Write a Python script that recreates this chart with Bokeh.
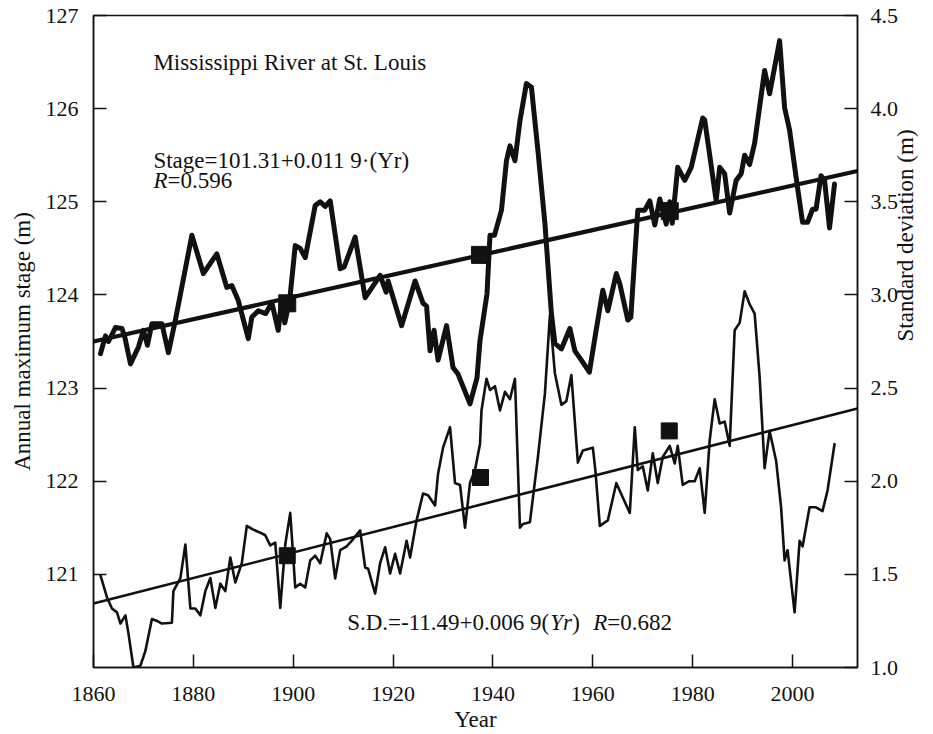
import math
from bokeh.plotting import figure
from bokeh.models import Range1d, LinearAxis, FixedTicker, PrintfTickFormatter, Label
from bokeh.embed import file_html
from bokeh.resources import INLINE

# ---------------- data ----------------
stage_years = [1861.4, 1862.4, 1863.0, 1864.4, 1865.7, 1866.3, 1867.4, 1869.0, 1870.0, 1870.8,
               1871.7, 1873.7, 1875.0, 1876.4, 1879.7, 1882.0, 1884.7, 1886.7, 1887.7, 1889.0,
               1891.0, 1891.7, 1893.0, 1894.5, 1895.7, 1897.0, 1897.7, 1898.3, 1899.3, 1900.4,
               1901.4, 1902.4, 1904.4, 1905.4, 1906.4, 1907.4, 1909.4, 1910.2, 1912.4, 1914.4,
               1915.4, 1917.4, 1918.6, 1919.0, 1921.7, 1924.4, 1926.0, 1926.7, 1927.4, 1928.2,
               1929.0, 1930.7, 1932.0, 1933.0, 1935.4, 1936.8, 1937.4, 1938.8, 1939.4, 1940.3,
               1941.7, 1942.7, 1943.4, 1944.4, 1945.4, 1946.7, 1947.7, 1949.0, 1950.4, 1951.7,
               1952.4, 1953.7, 1955.4, 1956.4, 1957.7, 1959.3, 1960.6, 1962.0, 1963.0, 1964.7,
               1965.4, 1967.0, 1967.6, 1969.0, 1970.4, 1971.4, 1972.4, 1973.4, 1974.7, 1975.4,
               1975.9, 1977.0, 1978.4, 1979.7, 1982.0, 1982.4, 1984.7, 1985.4, 1986.4, 1987.4,
               1988.7, 1989.7, 1990.4, 1991.4, 1992.4, 1994.4, 1995.4, 1997.4, 1998.4, 1999.4,
               2001.0, 2002.0, 2003.0, 2004.0, 2004.7, 2005.7, 2006.4, 2007.4, 2008.4]
stage_values = [123.37, 123.56, 123.50, 123.65, 123.64, 123.54, 123.26, 123.44, 123.62, 123.46,
                123.69, 123.69, 123.38, 123.73, 124.64, 124.23, 124.44, 124.08, 124.10, 123.94,
                123.53, 123.76, 123.83, 123.80, 123.92, 123.62, 123.95, 123.70, 123.95, 124.53,
                124.50, 124.40, 124.96, 125.00, 124.95, 125.01, 124.28, 124.30, 124.62, 123.97,
                124.05, 124.21, 124.03, 124.15, 123.67, 124.15, 123.91, 123.88, 123.40, 123.62,
                123.30, 123.67, 123.22, 123.15, 122.83, 123.11, 123.51, 124.01, 124.64, 124.64,
                124.91, 125.44, 125.60, 125.44, 125.87, 126.27, 126.23, 125.55, 124.77, 123.80,
                123.48, 123.42, 123.64, 123.40, 123.30, 123.17, 123.60, 124.05, 123.83, 124.23,
                124.12, 123.73, 123.76, 124.91, 124.91, 125.01, 124.75, 125.03, 124.76, 125.00,
                124.77, 125.37, 125.23, 125.37, 125.90, 125.88, 125.01, 125.37, 125.30, 124.88,
                125.23, 125.30, 125.50, 125.40, 125.63, 126.41, 126.16, 126.73, 126.01, 125.77,
                125.15, 124.78, 124.78, 124.92, 124.92, 125.28, 125.23, 124.72, 125.19]

sd_years = [1861.4, 1862.7, 1863.7, 1864.7, 1865.4, 1866.4, 1867.0, 1868.0, 1869.4, 1870.4,
            1871.7, 1872.7, 1873.7, 1875.7, 1876.0, 1877.4, 1878.4, 1879.4, 1880.4, 1881.4,
            1882.4, 1883.4, 1884.4, 1885.4, 1886.4, 1887.4, 1888.4, 1889.7, 1890.7, 1892.0,
            1893.7, 1894.4, 1895.4, 1896.4, 1897.4, 1898.4, 1899.4, 1900.4, 1901.4, 1902.4,
            1903.4, 1904.4, 1905.4, 1906.7, 1907.4, 1908.4, 1909.4, 1910.7, 1911.7, 1913.4,
            1914.4, 1915.0, 1916.4, 1917.4, 1918.4, 1919.4, 1920.4, 1921.4, 1922.7, 1923.4,
            1924.7, 1926.0, 1927.0, 1928.4, 1929.0, 1930.0, 1931.4, 1932.4, 1933.4, 1934.4,
            1935.4, 1936.4, 1937.4, 1937.7, 1938.7, 1939.4, 1940.4, 1941.4, 1942.4, 1943.4,
            1944.4, 1945.4, 1946.0, 1947.4, 1949.0, 1950.4, 1951.4, 1952.4, 1953.7, 1954.7,
            1955.7, 1957.0, 1958.0, 1960.0, 1960.5, 1961.4, 1963.0, 1964.7, 1965.7, 1967.4,
            1968.4, 1969.0, 1970.0, 1971.0, 1972.0, 1973.0, 1974.0, 1975.4, 1976.4, 1977.0,
            1978.0, 1979.3, 1980.4, 1981.4, 1982.4, 1983.4, 1984.4, 1985.4, 1986.4, 1987.4,
            1988.4, 1989.4, 1990.4, 1991.4, 1992.4, 1993.4, 1994.4, 1995.4, 1996.7, 1997.7,
            1998.4, 1999.0, 2000.4, 2001.4, 2002.0, 2003.4, 2004.7, 2006.0, 2007.0, 2008.4]
sd_values = [1.494, 1.376, 1.317, 1.296, 1.236, 1.28, 1.183, 1.0, 1.01, 1.09,
             1.26, 1.25, 1.236, 1.24, 1.41, 1.48, 1.66, 1.317, 1.317, 1.28,
             1.41, 1.48, 1.32, 1.45, 1.41, 1.59, 1.456, 1.56, 1.76, 1.74,
             1.72, 1.71, 1.655, 1.67, 1.32, 1.66, 1.83, 1.43, 1.45, 1.43,
             1.575, 1.60, 1.56, 1.72, 1.69, 1.478, 1.63, 1.65, 1.68, 1.736,
             1.537, 1.53, 1.397, 1.56, 1.645, 1.505, 1.61, 1.505, 1.68, 1.59,
             1.79, 1.934, 1.925, 1.87, 2.04, 2.18, 2.29, 1.99, 1.98, 1.75,
             1.99, 2.06, 2.2, 2.38, 2.55, 2.49, 2.51, 2.38, 2.48, 2.44,
             2.55, 1.75, 1.77, 1.78, 2.13, 2.47, 2.89, 2.58, 2.41, 2.43,
             2.57, 2.10, 2.165, 2.18, 2.06, 1.76, 1.79, 1.99, 1.93, 1.83,
             2.29, 2.06, 2.08, 1.95, 2.15, 1.99, 2.13, 2.19, 2.095, 2.19,
             1.98, 2.0, 2.0, 2.07, 1.83, 2.22, 2.44, 2.31, 2.32, 2.19,
             2.81, 2.85, 3.02, 2.95, 2.90, 2.56, 2.07, 2.27, 2.11, 1.86,
             1.575, 1.63, 1.296, 1.68, 1.65, 1.86, 1.86, 1.84, 1.95, 2.2]

trend_years = [1860, 2013]
stage_trend = [123.50, 125.33]
sd_trend = [1.344, 2.39]

mark_years_stage = [1898.8, 1937.4, 1975.4]
mark_stage = [123.91, 124.43, 124.90]
mark_years_sd = [1898.8, 1937.5, 1975.3]
mark_sd = [1.60, 2.02, 2.27]

x_ticks = [1860, 1880, 1900, 1920, 1940, 1960, 1980, 2000]
left_ticks = [121, 122, 123, 124, 125, 126, 127]
right_ticks = [1.0, 1.5, 2.0, 2.5, 3.0, 3.5, 4.0, 4.5]

title_text = "Mississippi River at St. Louis"
stage_eq_text = "Stage=101.31+0.011 9\u00b7(Yr)"
stage_r_text = "=0.596"
sd_eq_text = "S.D.=-11.49+0.006 9("
sd_r_text = "=0.682"
x_title = "Year"
left_title = "Annual maximum stage (m)"
right_title = "Standard deviation (m)"

# ---------------- figure ----------------
FONT = "Liberation Serif"
INK = "#111111"

p = figure(width=933, height=734, output_backend="svg", toolbar_location=None,
           x_range=Range1d(1860, 2013), y_range=Range1d(120, 127),
           min_border_left=93, min_border_right=75, min_border_top=15, min_border_bottom=67)
p.extra_y_ranges = {"sd": Range1d(1.0, 4.5)}
p.grid.visible = False
p.outline_line_color = INK
p.outline_line_width = 1.5
p.background_fill_color = "white"
p.border_fill_color = "white"

# trend lines
p.line(trend_years, stage_trend, line_color=INK, line_width=4.2)
p.line(trend_years, sd_trend, line_color=INK, line_width=2.6, y_range_name="sd")

# series
p.line(stage_years, stage_values, line_color=INK, line_width=5, line_join="round", line_cap="round")
p.line(sd_years, sd_values, line_color=INK, line_width=2.6, line_join="round", line_cap="round",
       y_range_name="sd")

# square markers
p.scatter(mark_years_stage, mark_stage, marker="square", size=17, fill_color=INK, line_color=INK)
p.scatter(mark_years_sd, mark_sd, marker="square", size=16, fill_color=INK, line_color=INK,
          y_range_name="sd")

# axes
def style_axis(ax):
    ax.major_tick_in = 13
    ax.major_tick_out = 0
    ax.minor_tick_in = 0
    ax.minor_tick_out = 0
    ax.axis_line_width = 1.5
    ax.axis_line_color = INK
    ax.major_tick_line_color = INK
    ax.major_tick_line_width = 1.5
    ax.major_label_text_font = FONT
    ax.major_label_text_font_size = "22px"
    ax.major_label_text_color = INK
    ax.axis_label_text_font = FONT
    ax.axis_label_text_font_size = "23px"
    ax.axis_label_text_font_style = "normal"
    ax.axis_label_text_color = INK

xa = p.xaxis[0]
style_axis(xa)
xa.ticker = FixedTicker(ticks=x_ticks)
xa.axis_label = x_title
xa.major_label_standoff = 19
xa.axis_label_standoff = 3

ya = p.yaxis[0]
style_axis(ya)
ya.ticker = FixedTicker(ticks=left_ticks)
ya.axis_label = left_title
ya.major_label_standoff = 15
ya.axis_label_standoff = 8

ra = LinearAxis(y_range_name="sd", ticker=FixedTicker(ticks=right_ticks),
                formatter=PrintfTickFormatter(format="%.1f"), axis_label=right_title)
style_axis(ra)
ra.major_label_standoff = 13
ra.axis_label_standoff = 4
ra.axis_label_orientation = math.pi / 2
p.add_layout(ra, "right")

# annotations
def add_label(x, y, text, x_offset=0, italic=False):
    p.add_layout(Label(x=x, y=y, text=text, x_offset=x_offset,
                       text_font=FONT, text_font_size="23px", text_color=INK,
                       text_font_style="italic" if italic else "normal",
                       text_baseline="alphabetic", text_align="left"))

add_label(1872.0, 126.50, title_text)
add_label(1872.0, 125.44, stage_eq_text)
add_label(1872.0, 125.225, "R", italic=True)
add_label(1872.0, 125.225, stage_r_text, x_offset=14)
add_label(1910.8, 120.48, sd_eq_text)
add_label(1910.8, 120.48, "Yr", x_offset=203, italic=True)
add_label(1910.8, 120.48, ")", x_offset=225)
add_label(1910.8, 120.48, "R", x_offset=246, italic=True)
add_label(1910.8, 120.48, sd_r_text, x_offset=260)

open("out.html", "w").write(file_html(p, INLINE))
